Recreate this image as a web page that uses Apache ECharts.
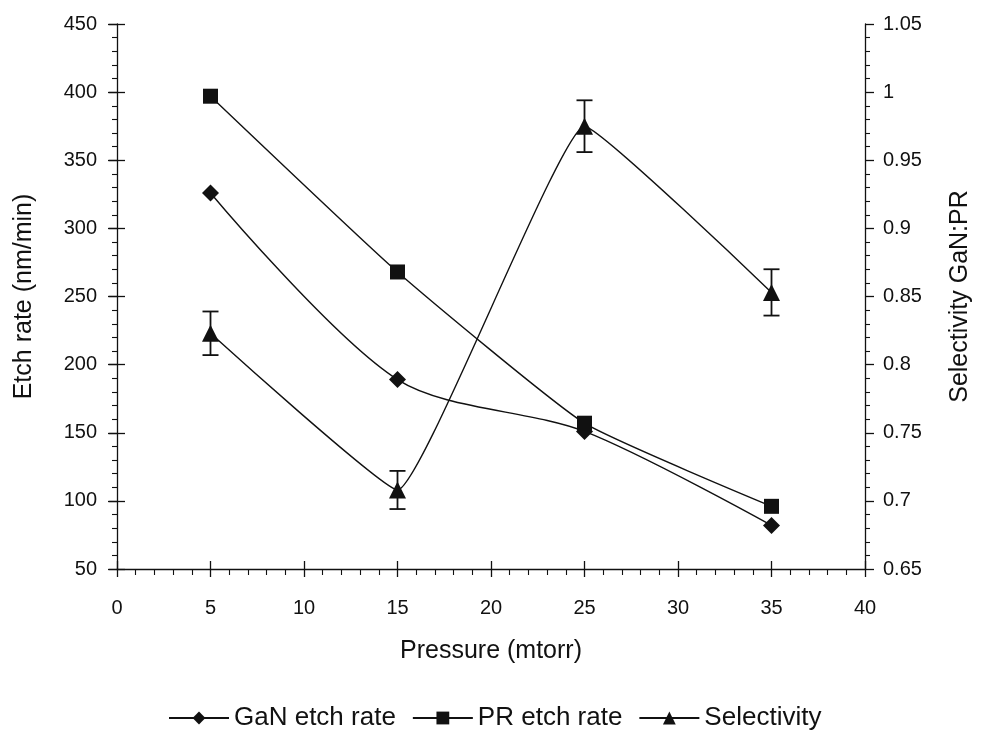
<!DOCTYPE html>
<html>
<head>
<meta charset="utf-8">
<script src="https://cdn.jsdelivr.net/npm/echarts@6/dist/echarts.min.js"></script>
<style>
  html, body { margin: 0; padding: 0; background: #fff; }
  #chart { width: 981px; height: 741px; }
</style>
</head>
<body>
<div id="chart"></div>
<script>
// Pressure settings (mtorr)
const pressure = [5, 15, 25, 35];
// Etch rates (nm/min)
const ganEtchRate = [326, 189, 151, 82];
const prEtchRate = [397, 268, 157, 96];
// Selectivity GaN:PR and its error bar half-widths
const selectivity = [0.823, 0.708, 0.975, 0.853];
const selectivityErr = [0.016, 0.014, 0.019, 0.017];

const FONT = 'Liberation Sans, Arial, sans-serif';
const INK = '#111';

const pairs = (ys) => pressure.map((x, i) => [x, ys[i]]);

const chart = echarts.init(document.getElementById('chart'), null, { renderer: 'canvas' });

const tickFont = { color: INK, fontSize: 20, fontFamily: FONT };
const titleFont = { color: INK, fontSize: 25, fontFamily: FONT };

const xMain = {
  type: 'value', min: 0, max: 40, interval: 5, gridIndex: 0,
  name: 'Pressure (mtorr)', nameLocation: 'middle', nameGap: 70,
  nameTextStyle: titleFont,
  axisLine: { show: true, onZero: false, lineStyle: { color: INK, width: 1.3 } },
  axisTick: { show: true, inside: false, length: 8, lineStyle: { color: INK, width: 1.3 } },
  minorTick: { show: true, splitNumber: 5, length: 6, lineStyle: { color: INK, width: 1.1 } },
  axisLabel: Object.assign({ margin: 29 }, tickFont),
  splitLine: { show: false }
};
// companion axis: the inner half of the crossing major ticks
const xInner = {
  type: 'value', min: 0, max: 40, interval: 5, gridIndex: 0, position: 'bottom',
  axisLine: { show: false }, axisLabel: { show: false }, splitLine: { show: false },
  axisTick: { show: true, inside: true, length: 8, lineStyle: { color: INK, width: 1.3 } }
};

const yLeft = {
  type: 'value', min: 50, max: 450, interval: 50, position: 'left',
  name: 'Etch rate (nm/min)', nameLocation: 'middle', nameGap: 80, nameRotate: 90,
  nameTextStyle: titleFont,
  axisLine: { show: true, onZero: false, lineStyle: { color: INK, width: 1.3 } },
  axisTick: { show: true, inside: false, length: 9, lineStyle: { color: INK, width: 1.3 } },
  minorTick: { show: true, splitNumber: 5, length: 5, lineStyle: { color: INK, width: 1.1 } },
  axisLabel: Object.assign({ margin: 20 }, tickFont),
  splitLine: { show: false }
};
const yRight = {
  type: 'value', min: 0.65, max: 1.05, interval: 0.05, position: 'right',
  name: 'Selectivity GaN:PR', nameLocation: 'middle', nameGap: 83, nameRotate: 90,
  nameTextStyle: titleFont,
  axisLine: { show: true, onZero: false, lineStyle: { color: INK, width: 1.3 } },
  axisTick: { show: true, inside: false, length: 9, lineStyle: { color: INK, width: 1.3 } },
  minorTick: { show: true, splitNumber: 5, length: 5, lineStyle: { color: INK, width: 1.1 } },
  axisLabel: Object.assign({ margin: 18, formatter: (v) => String(+v.toFixed(2)) }, tickFont),
  splitLine: { show: false }
};
const yLeftInner = {
  type: 'value', min: 50, max: 450, interval: 50, position: 'left',
  axisLine: { show: false }, axisLabel: { show: false }, splitLine: { show: false },
  axisTick: { show: true, inside: true, length: 8, lineStyle: { color: INK, width: 1.3 } }
};
const yRightInner = {
  type: 'value', min: 0.65, max: 1.05, interval: 0.05, position: 'right',
  axisLine: { show: false }, axisLabel: { show: false }, splitLine: { show: false },
  axisTick: { show: true, inside: true, length: 8, lineStyle: { color: INK, width: 1.3 } }
};

const lineStyle = { color: INK, width: 1.4 };

const option = {
  animation: false,
  backgroundColor: '#fff',
  textStyle: { fontFamily: FONT },
  grid: { left: 117, right: 113, top: 24, bottom: 172, containLabel: false },
  xAxis: [xMain, xInner],
  yAxis: [yLeft, yRight, yLeftInner, yRightInner],
  legend: {
    data: ['GaN etch rate', 'PR etch rate', 'Selectivity'],
    top: 700, left: 163,
    itemWidth: 60, itemHeight: 16, itemGap: 16,
    textStyle: { color: INK, fontSize: 26, fontFamily: FONT }
  },
  series: [
    {
      name: 'GaN etch rate', type: 'line', xAxisIndex: 0, yAxisIndex: 0,
      data: pairs(ganEtchRate), smooth: 0.3,
      symbol: 'diamond', symbolSize: 17,
      itemStyle: { color: INK }, lineStyle: lineStyle
    },
    {
      name: 'PR etch rate', type: 'line', xAxisIndex: 0, yAxisIndex: 0,
      data: pairs(prEtchRate), smooth: 0.15,
      symbol: 'rect', symbolSize: 15,
      itemStyle: { color: INK }, lineStyle: lineStyle
    },
    {
      name: 'Selectivity', type: 'line', xAxisIndex: 0, yAxisIndex: 1,
      data: pairs(selectivity), smooth: 0.1,
      symbol: 'triangle', symbolSize: 17,
      itemStyle: { color: INK }, lineStyle: lineStyle
    },
    {
      name: 'Selectivity error', type: 'custom', xAxisIndex: 0, yAxisIndex: 1,
      data: pressure.map((x, i) => [x, selectivity[i] - selectivityErr[i], selectivity[i] + selectivityErr[i]]),
      renderItem: function (params, api) {
        const lo = api.coord([api.value(0), api.value(1)]);
        const hi = api.coord([api.value(0), api.value(2)]);
        const w = 8;
        const style = { stroke: INK, lineWidth: 1.8, fill: null };
        return {
          type: 'group',
          children: [
            { type: 'line', shape: { x1: hi[0], y1: hi[1], x2: lo[0], y2: lo[1] }, style: style },
            { type: 'line', shape: { x1: hi[0] - w, y1: hi[1], x2: hi[0] + w, y2: hi[1] }, style: style },
            { type: 'line', shape: { x1: lo[0] - w, y1: lo[1], x2: lo[0] + w, y2: lo[1] }, style: style }
          ]
        };
      },
      encode: { x: 0, y: [1, 2] },
      z: 3
    }
  ]
};

chart.setOption(option);
</script>
</body>
</html>
